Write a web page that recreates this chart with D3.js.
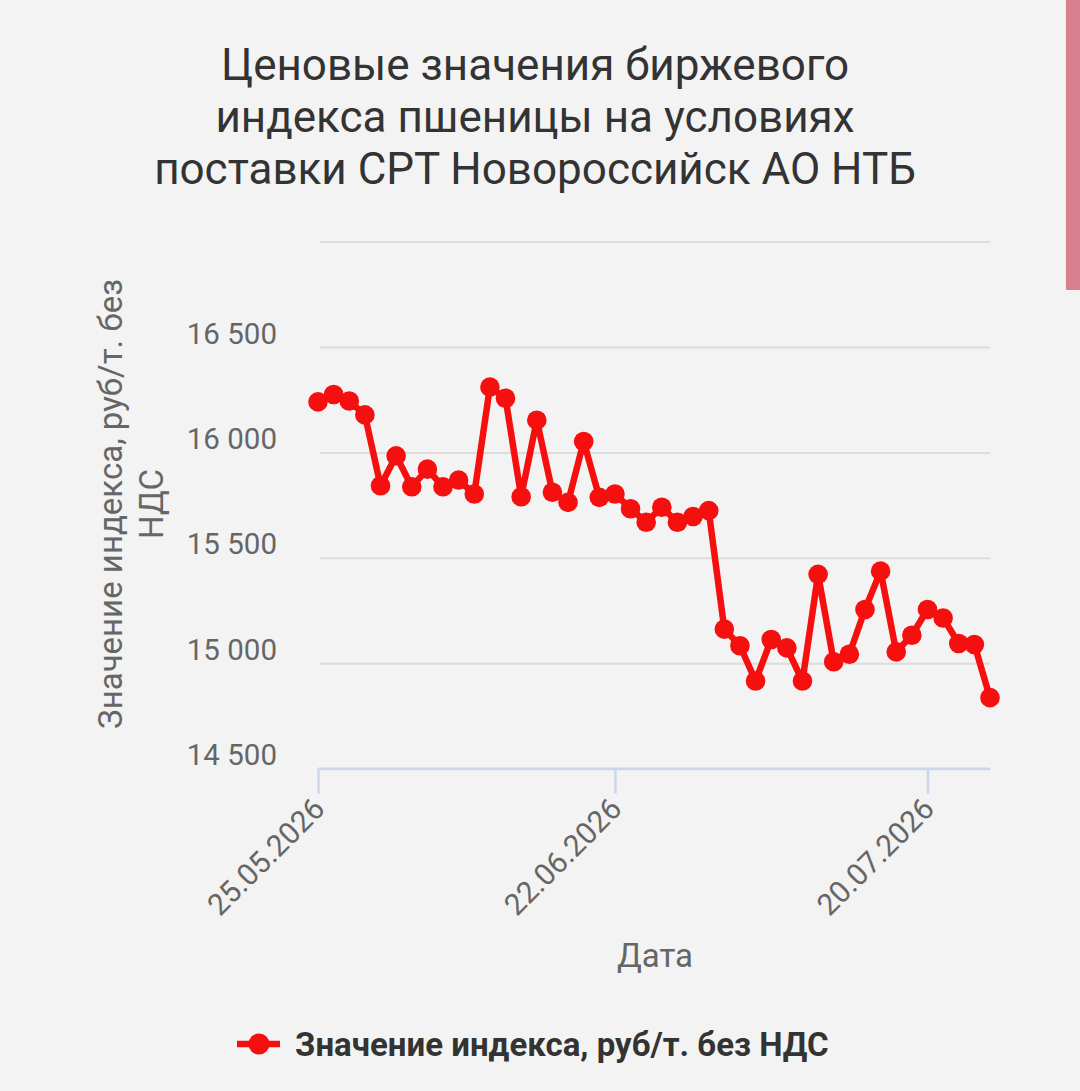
<!DOCTYPE html>
<html><head><meta charset="utf-8">
<script src="https://cdn.jsdelivr.net/npm/d3@7"></script>
<style>
html,body{margin:0;padding:0;background:#f3f3f3;}
svg{display:block;font-family:Roboto,"Noto Sans",sans-serif;}
</style></head>
<body>
<svg id="c" width="1080" height="1091"></svg>
<script>
const titleLines = ["Ценовые значения биржевого", "индекса пшеницы на условиях", "поставки СРТ Новороссийск АО НТБ"];
const yTitleLines = ["Значение индекса, руб/т. без", "НДС"];
const xTitle = "Дата";
const seriesName = "Значение индекса, руб/т. без НДС";
const dates = [
 "25.05.2026","26.05.2026","27.05.2026","28.05.2026","29.05.2026",
 "01.06.2026","02.06.2026","03.06.2026","04.06.2026","05.06.2026",
 "08.06.2026","09.06.2026","10.06.2026","11.06.2026",
 "15.06.2026","16.06.2026","17.06.2026","18.06.2026","19.06.2026",
 "22.06.2026","23.06.2026","24.06.2026","25.06.2026","26.06.2026",
 "29.06.2026","30.06.2026","01.07.2026","02.07.2026","03.07.2026",
 "06.07.2026","07.07.2026","08.07.2026","09.07.2026","10.07.2026",
 "13.07.2026","14.07.2026","15.07.2026","16.07.2026","17.07.2026",
 "20.07.2026","21.07.2026","22.07.2026","23.07.2026","24.07.2026"];
const values = [
 16240,16275,16244,16178,15842,15984,15837,15921,15837,15869,
 15803,16310,16257,15790,16153,15811,15763,16052,15787,15803,
 15733,15669,15740,15669,15696,15724,15162,15083,14916,15113,
 15073,14916,15422,15007,15043,15255,15437,15054,15133,15255,
 15215,15094,15089,14837];
const xTickLabels = ["25.05.2026","22.06.2026","20.07.2026"];
const yGridValues = [14500,15000,15500,16000,16500,17000];
const yLabelValues = [14500,15000,15500,16000,16500];

const svg = d3.select("#c");
const red = "#f50f0f";

// scrollbar strip
svg.append("rect").attr("x",1066).attr("y",0).attr("width",14).attr("height",290).attr("fill","#d9808f");

const x = d3.scalePoint().domain(dates).range([318, 990]);
const y = d3.scaleLinear().domain([14500, 17000]).range([768.7, 241.6]);

// title
const tt = svg.append("text").attr("text-anchor","middle").attr("fill","#333")
  .style("font-size","44px");
titleLines.forEach((t,i)=>tt.append("tspan").attr("x",535).attr("y",80+i*52).text(t));

// gridlines
const grid = svg.append("g").attr("transform","translate(320,0)")
 .call(d3.axisLeft(y).tickValues(yGridValues).tickSize(-(990-320)).tickFormat(""));
grid.select(".domain").remove();
grid.selectAll(".tick line").attr("stroke","#dcdcdc").attr("stroke-width",2);

// y labels
const fmt = v => d3.format(",")(v).replace(/,/g," ");
const yl = svg.append("g").attr("transform","translate(277,0)")
 .call(d3.axisLeft(y).tickValues(yLabelValues).tickSize(0).tickPadding(0).tickFormat(fmt));
yl.select(".domain").remove();
yl.selectAll(".tick text").attr("fill","#666").style("font-size","29.5px")
  .style("font-family","Roboto").attr("dy",null).attr("x",0).attr("y",-4);

// x axis
const xa = svg.append("g").attr("transform","translate(0,768.7)")
 .call(d3.axisBottom(x).tickValues(xTickLabels).tickSize(25).tickPadding(6).tickSizeOuter(0));
xa.select(".domain").attr("d","M318,0H990").attr("stroke","#ccd6eb").attr("stroke-width",2.5);
xa.selectAll(".tick line").attr("stroke","#ccd6eb").attr("stroke-width",2.5);
xa.selectAll(".tick text").attr("fill","#666").style("font-size","30px").style("font-family","Roboto")
  .attr("text-anchor","end").attr("dy",null).attr("y",0)
  .attr("transform","translate(8,42) rotate(-45)");

// y title
const yt = svg.append("text").attr("fill","#666")
  .attr("text-anchor","middle").style("font-size","33px").attr("transform","rotate(-90)");
const yTitleBase = [122, 163];
yTitleLines.forEach((t,i)=>{
  yt.append("tspan").attr("x",-504).attr("y",yTitleBase[i]).text(t);
});

// x title
svg.append("text").attr("x",655).attr("y",967).attr("text-anchor","middle").attr("fill","#666")
  .style("font-size","33px").text(xTitle);

// line
const line = d3.line().x((d,i)=>x(dates[i])).y(d=>y(d));
svg.append("path").datum(values).attr("d",line).attr("fill","none").attr("stroke",red)
  .attr("stroke-width",6.5).attr("stroke-linejoin","round");
svg.append("g").selectAll("circle").data(values).join("circle")
  .attr("cx",(d,i)=>x(dates[i])).attr("cy",d=>y(d)).attr("r",9.8).attr("fill",red);

// legend
const lg = svg.append("g");
lg.append("line").attr("x1",237).attr("x2",280).attr("y1",1044).attr("y2",1044).attr("stroke",red).attr("stroke-width",6.5);
lg.append("circle").attr("cx",259).attr("cy",1044).attr("r",10.5).attr("fill",red);
lg.append("text").attr("x",295).attr("y",1056).attr("fill","#333").style("font-size","33px").style("font-weight","bold").text(seriesName);
</script>
</body></html>
